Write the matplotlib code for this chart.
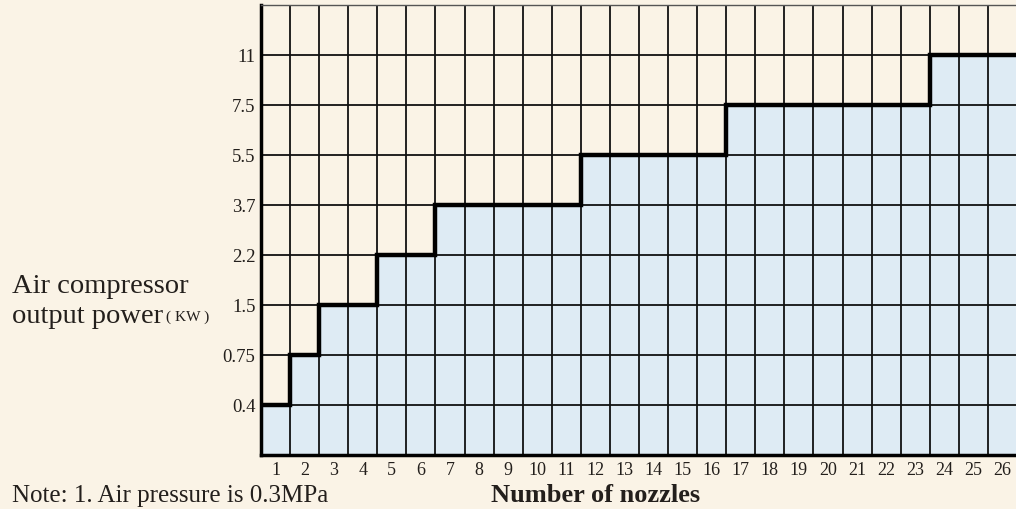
import matplotlib.pyplot as plt
import numpy as np

# nozzles vs. compressor power level
nozzles = list(range(1, 27))
power_labels = ['0.4', '0.75', '1.5', '2.2', '3.7', '5.5', '7.5', '11']
# power level index (1 = 0.4 kW ... 8 = 11 kW) for each nozzle count
power_level = [1, 2, 3, 3, 4, 4, 5, 5, 5, 5, 5, 6, 6, 6, 6, 6,
               7, 7, 7, 7, 7, 7, 7, 8, 8, 8]

bg = '#faf3e6'
fill = '#deebf4'
txt = '#231f1c'

plt.rcParams['font.family'] = ['Liberation Serif', 'DejaVu Serif']

fig = plt.figure(figsize=(10.16, 5.09), dpi=100, facecolor=bg)
ax = fig.add_axes([261/1016, 54/509, (1017-261)/1016, 450/509])
ax.set_facecolor(bg)

edges = np.arange(0, len(nozzles) + 1)
ax.stairs(power_level, edges, baseline=0, fill=True, color=fill, zorder=1)

# grid
for xv in edges[1:]:
    ax.axvline(xv, color='#111111', lw=1.3, zorder=2)
for yv in range(1, 9):
    ax.axhline(yv, color='#111111', lw=1.3, zorder=2)

ax.stairs(power_level, edges, baseline=None, color='black', lw=3.2, zorder=3)

ax.set_xlim(0, 26)
ax.set_ylim(0, 9)
ax.set_xticks(np.array(nozzles) - 0.5)
ax.set_xticklabels([str(n) for n in nozzles], fontsize=13, color=txt)
ax.set_yticks(range(1, 9))
ax.set_yticklabels(power_labels, fontsize=13.5, color=txt)
ax.tick_params(length=0)
ax.tick_params(axis='x', pad=5)
ax.tick_params(axis='y', pad=4)

for s in ['left', 'bottom']:
    ax.spines[s].set_linewidth(2.5)
    ax.spines[s].set_color('black')
ax.spines['top'].set_linewidth(1.0)
ax.spines['top'].set_color('#555555')
ax.spines['right'].set_visible(False)

fig.text(12/1016, 1 - 293/509, 'Air compressor', fontsize=20.5, color=txt, va='baseline')
fig.text(12/1016, 1 - 323/509, 'output power', fontsize=20.5, color=txt, va='baseline')
fig.text(166/1016, 1 - 321/509, '( KW )', fontsize=11, color=txt, va='baseline')

fig.text(596/1016, 1 - 502/509, 'Number of nozzles', fontsize=19, fontweight='bold',
         color=txt, ha='center', va='baseline')
fig.text(12/1016, 1 - 485/509, 'Note: 1. Air pressure is 0.3MPa', fontsize=18,
         color=txt, va='top')

fig.savefig('out.png', dpi=100, facecolor=bg)
